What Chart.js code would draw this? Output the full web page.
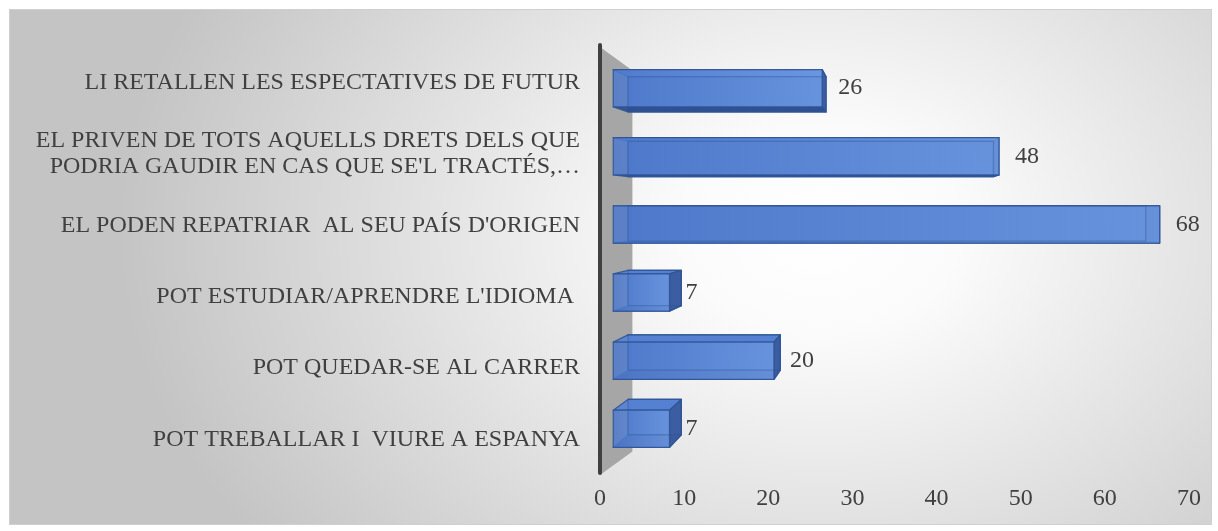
<!DOCTYPE html>
<html>
<head>
<meta charset="utf-8">
<script src="https://cdn.jsdelivr.net/npm/chart.js@4.4.1/dist/chart.umd.min.js"></script>
<style>
  body { margin: 0; background: #fff; }
</style>
</head>
<body>
<canvas id="resp" width="1218" height="531"></canvas>
<script>
const categories = [
  'LI RETALLEN LES ESPECTATIVES DE FUTUR',
  ['EL PRIVEN DE TOTS AQUELLS DRETS DELS QUE', "PODRIA GAUDIR EN CAS QUE SE'L TRACTÉS,…"],
  "EL PODEN REPATRIAR  AL SEU PAÍS D'ORIGEN",
  "POT ESTUDIAR/APRENDRE L'IDIOMA ",
  'POT QUEDAR-SE AL CARRER',
  'POT TREBALLAR I  VIURE A ESPANYA'
];
const values = [26, 48, 68, 7, 20, 7];
const xTicks = [0, 10, 20, 30, 40, 50, 60, 70];

const family = "'Liberation Serif', 'Times New Roman', serif";
const textColor = '#404040';

// depth planes of the 3d look (0 = floor / axis plane)
const T_FRONT = 0.045, T_BACK = 0.095, T_WALL = 0.11;

function vanish(chart, fy) {
  const a = chart.chartArea;
  return { x: (a.left + a.right) / 2, y: a.top + (a.bottom - a.top) * fy };
}
function proj(V, x, y, t) {
  return [x + (V.x - x) * t, y + (V.y - y) * t];
}
function poly(ctx, pts, fill, stroke) {
  ctx.beginPath();
  ctx.moveTo(pts[0][0], pts[0][1]);
  for (let i = 1; i < pts.length; i++) ctx.lineTo(pts[i][0], pts[i][1]);
  ctx.closePath();
  if (fill) { ctx.fillStyle = fill; ctx.fill(); }
  if (stroke) { ctx.strokeStyle = stroke; ctx.stroke(); }
}

const fondo = {
  id: 'fondo',
  beforeDraw(chart) {
    const c = chart.ctx;
    c.save();
    c.fillStyle = '#fff';
    c.fillRect(0, 0, chart.width, chart.height);
    c.save();
    c.translate(820, 230);
    c.scale(1.35, 1);
    const g = c.createRadialGradient(0, 0, 0, 0, 0, 520);
    g.addColorStop(0, '#ffffff');
    g.addColorStop(0.2, '#fbfbfb');
    g.addColorStop(1, '#c4c4c4');
    c.fillStyle = g;
    c.fillRect((9 - 820) / 1.35, 9 - 230, 1203 / 1.35, 516);
    c.restore();
    c.strokeStyle = '#d0d0d0';
    c.lineWidth = 1;
    c.strokeRect(9.5, 9.5, 1202, 515);
    c.restore();
  }
};

// grey side wall + dark edge at x = 0
const paret = {
  id: 'paret',
  beforeDatasetsDraw(chart) {
    const c = chart.ctx, a = chart.chartArea, V = vanish(chart, 0.5);
    const x0 = chart.scales.x.getPixelForValue(0);
    const p1 = [x0, a.top], p2 = proj(V, x0, a.top, T_WALL);
    const p3 = proj(V, x0, a.bottom, T_WALL), p4 = [x0, a.bottom];
    c.save();
    poly(c, [p1, p2, p3, p4], '#a6a6a6');
    c.strokeStyle = '#404040';
    c.lineWidth = 4;
    c.lineCap = 'round';
    c.beginPath();
    c.moveTo(p1[0], p1[1] - 2);
    c.lineTo(p4[0], p4[1] - 2);
    c.stroke();
    c.restore();
  }
};

// 3d boxes drawn from the bar elements + value labels
const caixes = {
  id: 'caixes',
  afterDatasetsDraw(chart) {
    const c = chart.ctx, V = vanish(chart, 0.37), xs = chart.scales.x;
    const meta = chart.getDatasetMeta(0);
    c.save();
    c.lineWidth = 1.3;
    c.lineJoin = 'round';
    meta.data.forEach((bar, i) => {
      const x0 = xs.getPixelForValue(0), x1 = xs.getPixelForValue(values[i]);
      const y0 = bar.y - bar.height / 2, y1 = bar.y + bar.height / 2;
      const F = [proj(V, x0, y0, T_FRONT), proj(V, x1, y0, T_FRONT), proj(V, x1, y1, T_FRONT), proj(V, x0, y1, T_FRONT)];
      const B = [proj(V, x0, y0, T_BACK), proj(V, x1, y0, T_BACK), proj(V, x1, y1, T_BACK), proj(V, x0, y1, T_BACK)];
      const edge = '#2f5597';
      c.globalAlpha = 0.9;
      poly(c, B, '#3d66b8', edge);
      poly(c, [F[0], F[1], B[1], B[0]], '#5783d4', edge);      // top
      poly(c, [F[3], F[2], B[2], B[3]], '#2c4d8c', edge);      // bottom
      poly(c, [F[1], F[2], B[2], B[1]], '#3b5b9e', edge);      // end
      const g = c.createLinearGradient(F[0][0], 0, F[1][0], 0);
      g.addColorStop(0, '#4e79cc');
      g.addColorStop(1, '#6b98e2');
      c.globalAlpha = 0.85;
      poly(c, F, g, edge);
      c.globalAlpha = 0.35;
      poly(c, B, null, '#2f5597');
      c.globalAlpha = 1;

      c.fillStyle = textColor;
      c.font = '24px ' + family;
      c.textAlign = 'left';
      c.textBaseline = 'middle';
      c.fillText(String(values[i]), F[1][0] + 16, (F[0][1] + F[3][1]) / 2);
    });
    c.restore();
  }
};

new Chart(document.getElementById('resp'), {
  type: 'bar',
  data: {
    labels: categories,
    datasets: [{
      data: values,
      backgroundColor: 'rgba(0,0,0,0)',
      borderWidth: 0,
      barThickness: 39
    }]
  },
  options: {
    indexAxis: 'y',
    responsive: false,
    animation: false,
    layout: { padding: { top: 47, right: 29, left: 0, bottom: 0 } },
    plugins: { legend: { display: false }, tooltip: { enabled: false } },
    scales: {
      x: {
        min: xTicks[0],
        max: xTicks[xTicks.length - 1],
        grid: { display: false, drawTicks: false },
        border: { display: false },
        ticks: {
          stepSize: xTicks[1] - xTicks[0], color: textColor, padding: 4, maxRotation: 0,
          font: { family: family, size: 24, lineHeight: 1.667 }
        },
        afterFit(s) { s.height = 56; }
      },
      y: {
        grid: { display: false, drawTicks: false },
        border: { display: false },
        ticks: { color: textColor, padding: 20, font: { family: family, size: 24, lineHeight: 1.08 } },
        afterFit(s) { s.width = 600; }
      }
    }
  },
  plugins: [fondo, paret, caixes]
});
</script>
</body>
</html>
